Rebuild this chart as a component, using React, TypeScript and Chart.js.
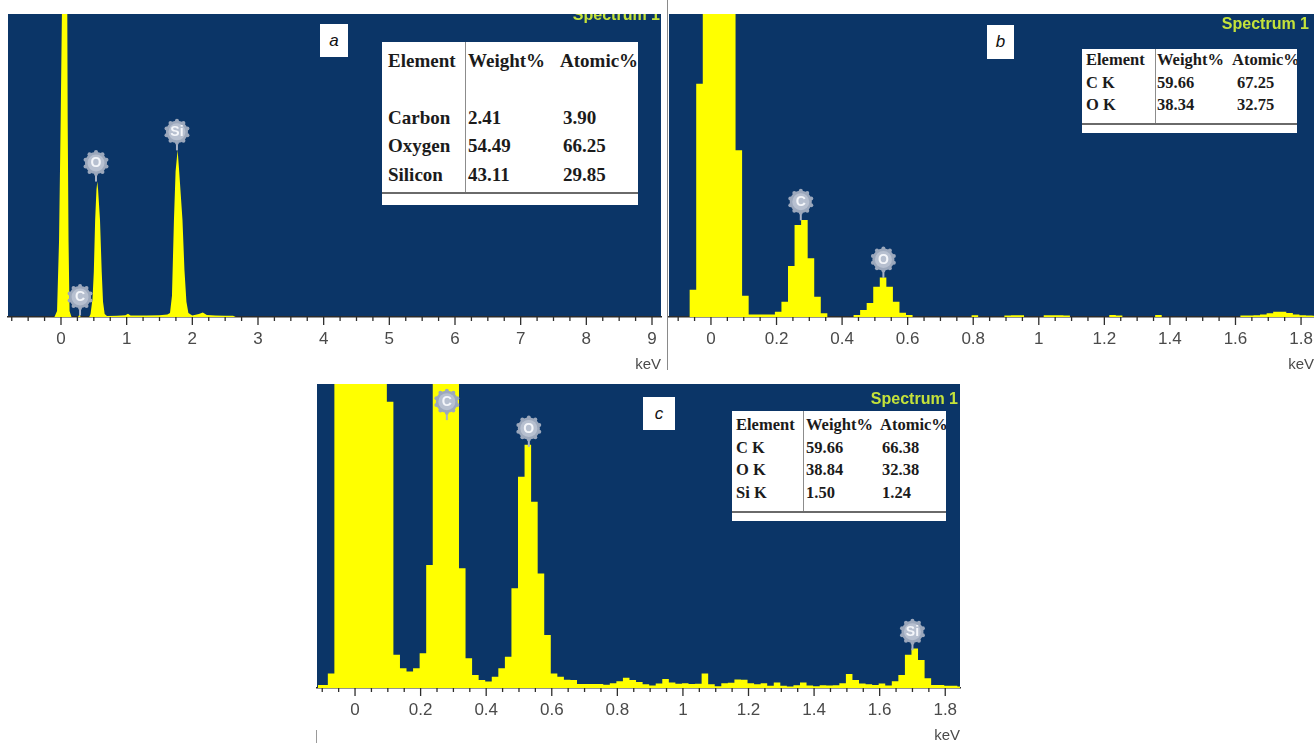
import React, { useEffect, useRef } from "react";
import { Chart, registerables } from "chart.js";

Chart.register(...registerables);

const NAVY = "#0b3567";
const YELLOW = "#ffff00";
const SPECTRUM_GREEN = "#c4e23a";
const AXIS_TEXT = "#4a4a4a";
const SANS = '"Liberation Sans", Arial, sans-serif';
const SERIF = '"Liberation Serif", "Times New Roman", serif';

// ---------------- Panel a : survey spectrum 0–9 keV (counts as % of plot height) ----------------
const aEnergy = [-0.81, -0.1, -0.06, -0.03, -0.005, 0.014, 0.05, 0.096, 0.102, 0.115, 0.13, 0.16, 0.26, 0.28, 0.3, 0.43, 0.45, 0.48, 0.5, 0.52, 0.54, 0.553, 0.565, 0.594, 0.62, 0.64, 0.665, 0.7, 0.85, 0.98, 1.02, 1.06, 1.3, 1.5, 1.62, 1.66, 1.69, 1.72, 1.745, 1.776, 1.8, 1.85, 1.88, 1.91, 1.94, 2.0, 2.1, 2.16, 2.22, 2.35, 2.5, 2.62, 2.66, 9.2];
const aCounts = [0, 0, 2, 25, 65, 100, 200, 100, 65, 25, 2, 0, 0, 0.8, 0, 0, 1, 6, 15, 32, 42, 44.7, 42, 32, 15, 5, 1, 0.3, 0.4, 0.6, 1.1, 0.5, 0.5, 0.6, 0.8, 1.3, 7, 32, 48, 55.1, 48, 32, 15.5, 5, 1.3, 0.5, 1.0, 1.5, 0.7, 0.5, 0.4, 0.4, 0, 0];
const aTickValues = [0, 1, 2, 3, 4, 5, 6, 7, 8, 9];
const aTickLabels = ["0", "1", "2", "3", "4", "5", "6", "7", "8", "9"];
const aMarkerLabels = ["C", "O", "Si"];
const aMarkerEnergy = [0.29, 0.533, 1.766];
const aMarkerLevel = [6.6, 50.8, 61.1];
const aHeader = ["Element", "Weight%", "Atomic%"];
const aElements = ["Carbon", "Oxygen", "Silicon"];
const aWeight = ["2.41", "54.49", "43.11"];
const aAtomic = ["3.90", "66.25", "29.85"];

// ---------------- Panel b : 20 eV channels ----------------
const BIN_WIDTH = 0.02;
const bFirstBin = -0.135;
const bCounts = [
  0, 0, 0, 0, 9, 77, 150, 150, 150, 150,
  150, 55, 7, 0.8, 0.8, 0.8, 0.8, 1.7, 5, 16.8,
  30.4, 32, 19.4, 6.7, 1.2, 0, 0, 0, 0, 0.7,
  2.3, 4.6, 10, 13, 10, 5, 1.4, 0.7, 0, 0,
  0, 0, 0, 0, 0, 0, 0, 0.6, 0, 0,
  0, 0, 0.5, 0.6, 0.6, 0, 0, 0, 0.6, 0.6,
  0.6, 0.5, 0, 0, 0, 0, 0, 0, 0.7, 0.5,
  0, 0, 0, 0, 0, 0.7, 0, 0, 0, 0,
  0, 0, 0, 0, 0, 0, 0, 0, 0.5, 0.5,
  0.6, 0.8, 1.2, 1.7, 1.7, 1.3, 0.8, 0.6, 0.5, 0.4,
];
const bTickValues = [0, 0.2, 0.4, 0.6, 0.8, 1, 1.2, 1.4, 1.6, 1.8];
const bTickLabels = ["0", "0.2", "0.4", "0.6", "0.8", "1", "1.2", "1.4", "1.6", "1.8"];
const bMarkerLabels = ["C", "O"];
const bMarkerEnergy = [0.274, 0.526];
const bMarkerLevel = [38, 19];
const bHeader = ["Element", "Weight%", "Atomic%"];
const bElements = ["C K", "O K"];
const bWeight = ["59.66", "38.34"];
const bAtomic = ["67.25", "32.75"];

// ---------------- Panel c : 20 eV channels ----------------
const cFirstBin = -0.113;
const cCounts = [
  1, 1, 4.8, 150, 150, 150, 150, 150, 150, 150,
  150, 94.2, 10.9, 6.5, 5.4, 6.5, 11.4, 40.5, 150, 150,
  150, 150, 39.4, 9.8, 4.3, 2.6, 2.1, 3.7, 6.5, 10.3,
  32.8, 69.5, 80, 61.3, 37.7, 17.4, 4.8, 3.7, 2.7, 2.6,
  1.3, 1.3, 1.3, 1.3, 1.1, 1.6, 2.2, 3.4, 2.6, 2.0,
  1.2, 0.8, 1.5, 3.0, 1.8, 1.4, 1.6, 1.3, 1.4, 4.8,
  1.2, 0.6, 1.6, 1.7, 2.8, 2.7, 1.6, 1.2, 1.6, 0.7,
  1.8, 0.7, 0.5, 0.9, 1.8, 0.8, 0.6, 0.9, 0.8, 0.9,
  1.6, 4.6, 2.6, 1.5, 1.2, 1.0, 1.5, 0.8, 2.2, 4.3,
  10.9, 13, 9.2, 3.2, 1.0, 1.0, 0.7, 0.7, 0.5,
];
const cTickValues = bTickValues;
const cTickLabels = bTickLabels;
const cMarkerLabels = ["C", "O", "Si"];
const cMarkerEnergy = [0.28, 0.53, 1.7];
const cMarkerLevel = [94.2, 85.4, 18.5];
const cHeader = ["Element", "Weight%", "Atomic%"];
const cElements = ["C K", "O K", "Si K"];
const cWeight = ["59.66", "38.84", "1.50"];
const cAtomic = ["66.38", "32.38", "1.24"];

type Pt = { x: number; y: number };

const zipPoints = (xs: number[], ys: number[]): Pt[] => xs.map((x, i) => ({ x, y: ys[i] }));
const binPoints = (first: number, counts: number[]): Pt[] =>
  counts.map((y, i) => ({ x: first + i * BIN_WIDTH, y }));

type PanelProps = {
  left: number;
  top: number;
  width: number;
  height: number;
  pad: { left: number; right: number; top: number; bottom: number };
  axisHeight: number;
  xMin: number;
  xMax: number;
  minorStep: number;
  tickValues: number[];
  tickLabels: string[];
  points: Pt[];
  stepped: boolean;
  markerLabels: string[];
  markerEnergy: number[];
  markerLevel: number[];
  spectrumRight: number;
  spectrumBaseline: number;
  titlePadBottom: number;
};

function drawMarker(ctx: CanvasRenderingContext2D, x: number, y: number, label: string) {
  const r = 11.5;
  ctx.save();
  ctx.strokeStyle = "#a9b3c6";
  ctx.lineWidth = 2;
  ctx.beginPath();
  ctx.moveTo(x, y + r);
  ctx.lineTo(x, y + r + 7);
  ctx.stroke();
  ctx.fillStyle = "#9ca8bc";
  for (let i = 0; i < 10; i++) {
    const a = (i * Math.PI) / 5 + Math.PI / 10;
    ctx.beginPath();
    ctx.arc(x + Math.cos(a) * (r - 0.5), y + Math.sin(a) * (r - 0.5), 2, 0, Math.PI * 2);
    ctx.fill();
  }
  ctx.beginPath();
  ctx.arc(x, y, r - 0.5, 0, Math.PI * 2);
  ctx.fill();
  ctx.fillStyle = "#b7c0d0";
  ctx.beginPath();
  ctx.arc(x, y, r - 3, 0, Math.PI * 2);
  ctx.fill();
  ctx.fillStyle = "#f4f6fa";
  ctx.font = `bold 14px ${SANS}`;
  ctx.textAlign = "center";
  ctx.textBaseline = "middle";
  ctx.fillText(label, x, y + 0.5);
  ctx.restore();
}

function SpectrumPanel(p: PanelProps) {
  const ref = useRef<HTMLCanvasElement | null>(null);
  useEffect(() => {
    if (!ref.current) return;
    const decor = {
      id: "panelDecor",
      beforeDraw(chart: any) {
        const { ctx, chartArea: a } = chart;
        ctx.save();
        ctx.fillStyle = NAVY;
        ctx.fillRect(a.left, a.top, a.right - a.left, a.bottom - a.top);
        ctx.restore();
      },
      afterDatasetsDraw(chart: any) {
        const { ctx, chartArea: a, scales } = chart;
        ctx.save();
        ctx.beginPath();
        ctx.rect(a.left, a.top, a.right - a.left, a.bottom - a.top);
        ctx.clip();
        ctx.font = `bold 16px ${SANS}`;
        ctx.fillStyle = SPECTRUM_GREEN;
        ctx.textAlign = "right";
        ctx.textBaseline = "alphabetic";
        ctx.fillText("Spectrum 1", a.right - p.spectrumRight, a.top + p.spectrumBaseline);
        p.markerLabels.forEach((lab, i) => {
          drawMarker(
            ctx,
            scales.x.getPixelForValue(p.markerEnergy[i]),
            scales.y.getPixelForValue(p.markerLevel[i]),
            lab
          );
        });
        ctx.restore();
      },
      afterDraw(chart: any) {
        const { ctx, chartArea: a, scales } = chart;
        const xs = scales.x;
        ctx.save();
        ctx.strokeStyle = "#2e2e2e";
        ctx.lineWidth = 1.3;
        xs.ticks.forEach((t: any) => {
          const px = xs.getPixelForValue(t.value);
          if (px < a.left - 0.5 || px > a.right + 0.5) return;
          const major = p.tickValues.some((v) => Math.abs(v - t.value) < 1e-6);
          ctx.beginPath();
          ctx.moveTo(px, a.bottom);
          ctx.lineTo(px, a.bottom + (major ? 8 : 4));
          ctx.stroke();
        });
        ctx.restore();
      },
    };
    const chart = new Chart(ref.current, {
      type: "line",
      data: {
        datasets: [
          {
            data: p.points,
            stepped: p.stepped ? "middle" : false,
            fill: "origin",
            backgroundColor: YELLOW,
            borderColor: "rgba(0,0,0,0)",
            borderWidth: 0,
            pointRadius: 0,
            tension: 0,
          } as any,
        ],
      },
      options: {
        animation: false,
        responsive: false,
        devicePixelRatio: 1,
        events: [],
        layout: { padding: p.pad },
        plugins: {
          legend: { display: false },
          tooltip: { enabled: false },
        },
        scales: {
          x: {
            type: "linear",
            min: p.xMin,
            max: p.xMax,
            afterFit: (s: any) => {
              s.height = p.axisHeight;
              s.paddingLeft = 0;
              s.paddingRight = 0;
            },
            grid: { display: true, drawOnChartArea: false, drawTicks: false },
            border: { display: true, color: "#2b2b2b", width: 1.5 },
            ticks: {
              stepSize: p.minorStep,
              autoSkip: false,
              maxRotation: 0,
              minRotation: 0,
              includeBounds: false,
              maxTicksLimit: 1000,
              padding: 12,
              color: AXIS_TEXT,
              font: { family: SANS, size: 17, lineHeight: 1.2 },
              callback: (v: any) => {
                const i = p.tickValues.findIndex((t) => Math.abs(t - Number(v)) < 1e-6);
                return i >= 0 ? p.tickLabels[i] : "";
              },
            },
            title: {
              display: true,
              text: "keV",
              align: "end",
              color: AXIS_TEXT,
              font: { family: SANS, size: 15, lineHeight: 1 },
              padding: { top: 0, bottom: p.titlePadBottom },
            },
          } as any,
          y: { display: false, min: 0, max: 100 },
        },
      },
      plugins: [decor as any],
    });
    return () => chart.destroy();
  }, []);
  return (
    <canvas
      ref={ref}
      width={p.width}
      height={p.height}
      style={{ position: "absolute", left: p.left, top: p.top, width: p.width, height: p.height }}
    />
  );
}

type TableProps = {
  left: number;
  top: number;
  width: number;
  height: number;
  fontSize: number;
  headerX: number[];
  valueX: number[];
  headerY: number;
  rowY: number[];
  dividerX: number;
  ruleY: number;
  header: string[];
  elements: string[];
  weight: string[];
  atomic: string[];
};

function ResultTable(t: TableProps) {
  const cell = (text: string, x: number, y: number, key: string) => (
    <div
      key={key}
      style={{
        position: "absolute",
        left: x,
        top: y - t.fontSize * 0.6,
        fontSize: t.fontSize,
        lineHeight: `${t.fontSize * 1.2}px`,
        fontFamily: SERIF,
        fontWeight: "bold",
        color: "#1b1b1b",
        whiteSpace: "nowrap",
      }}
    >
      {text}
    </div>
  );
  return (
    <div
      style={{
        position: "absolute",
        left: t.left,
        top: t.top,
        width: t.width,
        height: t.height,
        background: "#ffffff",
        overflow: "hidden",
      }}
    >
      <div style={{ position: "absolute", left: t.dividerX, top: 0, width: 1, height: t.ruleY, background: "#8c8c8c" }} />
      <div style={{ position: "absolute", left: 0, top: t.ruleY, width: t.width, height: 1.5, background: "#6a6a6a" }} />
      {t.header.map((h, i) => cell(h, t.headerX[i], t.headerY, `h${i}`))}
      {t.elements.map((e, r) => (
        <React.Fragment key={`r${r}`}>
          {cell(e, t.valueX[0], t.rowY[r], `e${r}`)}
          {cell(t.weight[r], t.valueX[1], t.rowY[r], `w${r}`)}
          {cell(t.atomic[r], t.valueX[2], t.rowY[r], `a${r}`)}
        </React.Fragment>
      ))}
    </div>
  );
}

function LetterBox(props: { left: number; top: number; width: number; height: number; letter: string }) {
  return (
    <div
      style={{
        position: "absolute",
        left: props.left,
        top: props.top,
        width: props.width,
        height: props.height,
        background: "#ffffff",
        display: "flex",
        alignItems: "center",
        justifyContent: "center",
        fontFamily: SANS,
        fontStyle: "italic",
        fontSize: 17,
        color: "#111",
      }}
    >
      {props.letter}
    </div>
  );
}

export default function App() {
  return (
    <div
      style={{
        position: "fixed",
        left: 0,
        top: 0,
        width: 1314,
        height: 743,
        background: "#ffffff",
        overflow: "hidden",
      }}
    >
      <SpectrumPanel
        left={0}
        top={0}
        width={664}
        height={376}
        pad={{ left: 8, right: 3, top: 14, bottom: 0 }}
        axisHeight={59}
        xMin={-0.807}
        xMax={9.137}
        minorStep={0.25}
        tickValues={aTickValues}
        tickLabels={aTickLabels}
        points={zipPoints(aEnergy, aCounts)}
        stepped={false}
        markerLabels={aMarkerLabels}
        markerEnergy={aMarkerEnergy}
        markerLevel={aMarkerLevel}
        spectrumRight={1}
        spectrumBaseline={6}
        titlePadBottom={3.5}
      />
      <SpectrumPanel
        left={664}
        top={0}
        width={650}
        height={376}
        pad={{ left: 5, right: 0, top: 14, bottom: 0 }}
        axisHeight={59}
        xMin={-0.128}
        xMax={1.8395}
        minorStep={0.05}
        tickValues={bTickValues}
        tickLabels={bTickLabels}
        points={binPoints(bFirstBin, bCounts)}
        stepped={true}
        markerLabels={bMarkerLabels}
        markerEnergy={bMarkerEnergy}
        markerLevel={bMarkerLevel}
        spectrumRight={5}
        spectrumBaseline={14.5}
        titlePadBottom={3.5}
      />
      <SpectrumPanel
        left={310}
        top={380}
        width={654}
        height={363}
        pad={{ left: 7, right: 4, top: 4, bottom: 0 }}
        axisHeight={55}
        xMin={-0.116}
        xMax={1.845}
        minorStep={0.05}
        tickValues={cTickValues}
        tickLabels={cTickLabels}
        points={binPoints(cFirstBin, cCounts)}
        stepped={true}
        markerLabels={cMarkerLabels}
        markerEnergy={cMarkerEnergy}
        markerLevel={cMarkerLevel}
        spectrumRight={2}
        spectrumBaseline={20}
        titlePadBottom={0}
      />
      <div style={{ position: "absolute", left: 667, top: 0, width: 1, height: 370, background: "#8a8a8a" }} />
      <div style={{ position: "absolute", left: 316, top: 730, width: 1, height: 13, background: "#9a9a9a" }} />
      <LetterBox left={320} top={24} width={28} height={33} letter="a" />
      <LetterBox left={987} top={25} width={27} height={34} letter="b" />
      <LetterBox left={643} top={397} width={32} height={33} letter="c" />
      <ResultTable
        left={382}
        top={42}
        width={256}
        height={163}
        fontSize={19}
        headerX={[6, 86, 178]}
        valueX={[6, 86, 181]}
        headerY={19}
        rowY={[76, 104, 133]}
        dividerX={83}
        ruleY={150}
        header={aHeader}
        elements={aElements}
        weight={aWeight}
        atomic={aAtomic}
      />
      <ResultTable
        left={1082}
        top={49}
        width={215}
        height={84}
        fontSize={16.5}
        headerX={[4, 75, 150]}
        valueX={[4, 75, 155]}
        headerY={11}
        rowY={[34, 56]}
        dividerX={73}
        ruleY={74}
        header={bHeader}
        elements={bElements}
        weight={bWeight}
        atomic={bAtomic}
      />
      <ResultTable
        left={732}
        top={411}
        width={214}
        height={110}
        fontSize={16.5}
        headerX={[4, 74, 148]}
        valueX={[4, 74, 150]}
        headerY={14}
        rowY={[37, 59, 82]}
        dividerX={71}
        ruleY={100}
        header={cHeader}
        elements={cElements}
        weight={cWeight}
        atomic={cAtomic}
      />
    </div>
  );
}
